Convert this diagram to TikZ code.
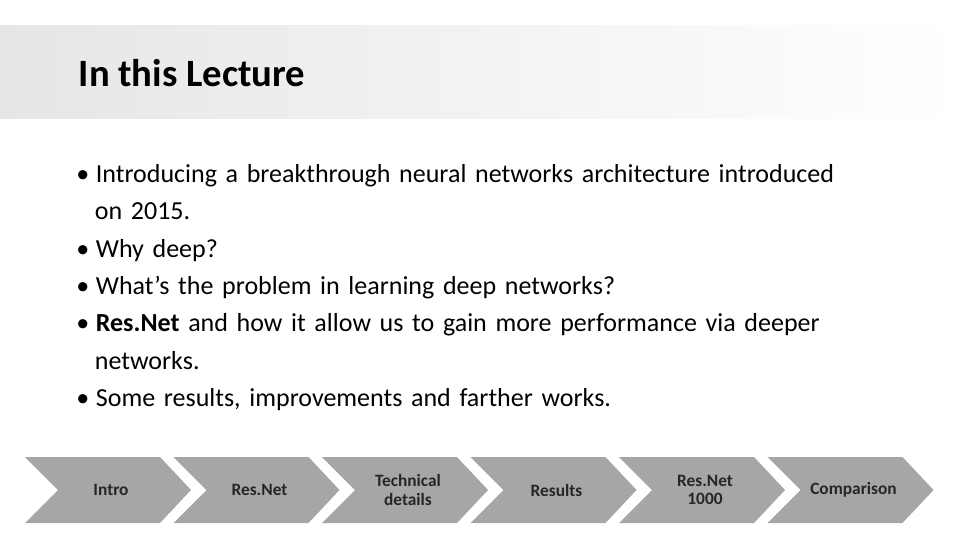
\documentclass[tikz,border=0pt]{standalone}
\usepackage{fontspec}
\setmainfont{Carlito}
\definecolor{chevgray}{HTML}{A6A6A6}
\definecolor{bandgray}{HTML}{E6E6E6}
\newcommand{\bitem}{\par\noindent\hangindent=14pt\hangafter=1 •\hspace{5pt}}
\begin{document}
\begin{tikzpicture}[x=0.75pt, y=-0.75pt,
  chev/.style={fill=chevgray, draw=none},
  chevlabel/.style={font=\fontsize{13}{14}\selectfont\bfseries, align=center, text=black!85},
  bullet/.style={anchor=north west, inner sep=0pt, font=\fontsize{19.5}{28}\selectfont, text width=590pt, align=left}]
    \useasboundingbox (0, 0) rectangle (960, 540);
    % Header band
    \shade[left color=bandgray, right color=white, draw=none] (0, 25) rectangle (960, 118);
    \node[anchor=west, font=\fontsize{29}{32}\selectfont\bfseries] (title) at (74, 73) {In this Lecture};

    % Bullets
    \node[bullet] (list) at (76, 145) {%
      \hyphenpenalty=10000 \raggedright
      \bitem Introducing a breakthrough neural networks architecture introduced on 2015.
      \bitem Why deep?
      \bitem What’s the problem in learning deep networks?
      \bitem \textbf{Res.Net} and how it allow us to gain more performance via deeper networks.
      \bitem Some results, improvements and farther works.\par};

    % Chevrons
    \foreach \lab [count=\i from 0] in {Intro, Res.Net, Technical\\details, Results, Res.Net\\1000, Comparison} {
      \pgfmathsetmacro{\xo}{25 + 148.5*\i}
      \fill[chev] (\xo, 457) -- ++(135, 0) -- ++(31, 33) -- ++(-31, 33) -- ++(-135, 0) -- ++(33, -33) -- cycle;
      \node[chevlabel] (c\i) at (\xo + 86, 490) {\lab};
    }
\end{tikzpicture}
\end{document}
